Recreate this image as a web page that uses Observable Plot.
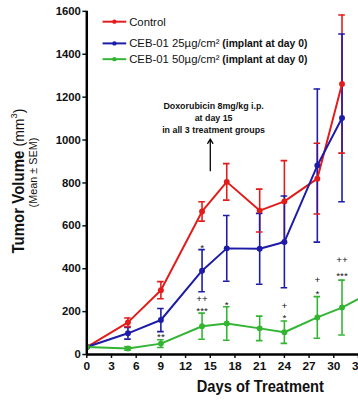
<!DOCTYPE html>
<html><head><meta charset="utf-8">
<script src="https://cdn.jsdelivr.net/npm/d3@7"></script>
<script src="https://cdn.jsdelivr.net/npm/@observablehq/plot@0.6"></script>
<style>html,body{margin:0;padding:0;overflow:hidden;background:#fff}#chart{width:358px;height:410px;overflow:hidden}</style>
</head><body><div id="chart"></div>
<script>
// ---- data ----
const seriesNames = ["Control", "CEB-01 25µg/cm²", "CEB-01 50µg/cm²"];
const seriesColors = ["#e41b1b", "#1c1ca8", "#33b533"];
const days = [0, 5, 9, 14, 17, 21, 24, 28, 31];
const controlMean = [35, 150, 300, 667, 805, 671, 714, 820, 1261];
const controlSem  = [5, 20, 40, 45, 85, 100, 190, 165, 322];
const low25Mean   = [35, 99, 161, 391, 495, 493, 525, 881, 1103];
const low25Sem    = [4, 27, 54, 98, 153, 165, 214, 357, 391];
const high50Days  = [0, 5, 9, 14, 17, 21, 24, 28, 31, 35];
const high50Mean  = [35, 28, 51, 132, 145, 122, 104, 173, 219, 300];
const high50Sem   = [3, 8, 18, 61, 78, 57, 52, 97, 128, 0];
const xTicks = [0, 3, 6, 9, 12, 15, 18, 21, 24, 27, 30, 33];
const yTicks = [0, 200, 400, 600, 800, 1000, 1200, 1400, 1600];
// significance marks
const sigDays   = [9, 14, 14, 14, 17, 24, 24, 28, 28, 31, 31];
const sigValues = [82, 496, 260, 203, 234, 229, 170, 348, 285, 440, 366];
const sigLabels = ["**", "*", "++", "***", "*", "+", "*", "+", "*", "++", "***"];
// doxorubicin note
const noteDay = 15.4;
const noteLines = ["Doxorubicin 8mg/kg i.p.", "at day 15", "in all 3 treatment groups"];
const noteValues = [1159, 1103, 1046];
const arrowDay = 15;
const arrowFrom = 857, arrowTo = 1005;

const rows = [];
[[days, controlMean, controlSem], [days, low25Mean, low25Sem], [high50Days, high50Mean, high50Sem]]
  .forEach(([ds, m, s], i) => ds.forEach((d, j) => rows.push({series: seriesNames[i], day: d, value: m[j], lo: m[j] - s[j], hi: m[j] + s[j]})));
const errRows = rows.filter(r => r.hi > r.lo);
const sig = sigDays.map((d, i) => ({day: d, value: sigValues[i], label: sigLabels[i]}));
const notes = noteLines.map((t, i) => ({day: noteDay, value: noteValues[i], text: t}));

const font = "'Liberation Sans', Arial, sans-serif";
const chart = Plot.plot({
  width: 363, height: 410,
  marginLeft: 87.5, marginRight: 0, marginTop: 11, marginBottom: 51,
  style: {fontFamily: font, background: "#fff", color: "#111"},
  x: {domain: [0, 33], label: null},
  y: {domain: [0, 1600], label: null},
  color: {domain: seriesNames, range: seriesColors},
  marks: [
    Plot.axisX({ticks: xTicks, tickFormat: d => String(d), tickSize: 4, tickPadding: 3, fontSize: 12, fontWeight: "bold", strokeWidth: 1.5, label: null}),
    Plot.axisY({ticks: yTicks, tickFormat: d => String(d), tickSize: 4, tickPadding: 2, fontSize: 11.5, fontWeight: "bold", strokeWidth: 1.5, label: null}),
    Plot.ruleX(errRows, {x: "day", y1: "lo", y2: "hi", stroke: "series", strokeWidth: 1.6, clip: true}),
    Plot.ruleY(errRows, {y: "hi", x1: d => d.day - 0.4, x2: d => d.day + 0.4, stroke: "series", strokeWidth: 1.6, clip: true}),
    Plot.ruleY(errRows, {y: "lo", x1: d => d.day - 0.4, x2: d => d.day + 0.4, stroke: "series", strokeWidth: 1.6, clip: true}),
    Plot.line(rows, {x: "day", y: "value", z: "series", stroke: "series", strokeWidth: 2, clip: true}),
    Plot.dot(rows, {x: "day", y: "value", fill: "series", r: 3, clip: true}),
    Plot.ruleX([0], {stroke: "#000", strokeWidth: 2.5}),
    Plot.ruleY([0], {stroke: "#000", strokeWidth: 2.5}),
    Plot.text(sig, {x: "day", y: "value", text: "label", fontSize: 10, fill: "#111"}),
    Plot.text(notes, {x: "day", y: "value", text: "text", fontSize: 9, fontWeight: "bold", fill: "#111"}),
    Plot.arrow([{x: arrowDay, y1: arrowFrom, y2: arrowTo}], {x: "x", y1: "y1", y2: "y2", stroke: "#000", strokeWidth: 1.3, headLength: 6})
  ]
});
document.getElementById("chart").append(chart);

const svg = d3.select(chart);
// legend
const leg = svg.append("g").attr("font-family", font).attr("font-size", 11.5).attr("fill", "#111").attr("text-anchor", "start");
const legY = [22, 44, 60];
const legExtra = ["", " (implant at day 0)", " (implant at day 0)"];
seriesNames.forEach((n, i) => {
  leg.append("line").attr("x1", 104).attr("x2", 128).attr("y1", legY[i]).attr("y2", legY[i])
    .attr("stroke", seriesColors[i]).attr("stroke-width", 2);
  leg.append("circle").attr("cx", 116).attr("cy", legY[i]).attr("r", 2.2).attr("fill", seriesColors[i]);
  const t = leg.append("text").attr("x", 131).attr("y", legY[i]).attr("dy", "0.35em");
  t.append("tspan").text(n);
  if (legExtra[i]) t.append("tspan").attr("font-weight", "bold").attr("font-size", 10.5).text(legExtra[i]);
});
// axis titles
svg.append("text").attr("x", 264).attr("y", 392).attr("dy", "0.35em").attr("text-anchor", "middle")
  .attr("font-family", font).attr("font-size", 16).attr("font-weight", "bold").attr("fill", "#111")
  .attr("textLength", 129).attr("lengthAdjust", "spacingAndGlyphs").text("Days of Treatment");
const yt = svg.append("text").attr("transform", "translate(21,183.5) rotate(-90)").attr("text-anchor", "middle")
  .attr("dy", "0.35em").attr("font-family", font).attr("fill", "#111")
  .attr("textLength", 147).attr("lengthAdjust", "spacingAndGlyphs");
yt.append("tspan").attr("font-size", 16).attr("font-weight", "bold").text("Tumor Volume ");
yt.append("tspan").attr("font-size", 15).text("(mm");
yt.append("tspan").attr("font-size", 10).attr("dy", "-7").text("3");
yt.append("tspan").attr("font-size", 15).attr("dy", "7").text(")");
svg.append("text").attr("transform", "translate(34,175) rotate(-90)").attr("text-anchor", "middle")
  .attr("dy", "0.35em").attr("font-family", font).attr("font-size", 11).attr("fill", "#111")
  .text("(Mean ± SEM)");
</script></body></html>
